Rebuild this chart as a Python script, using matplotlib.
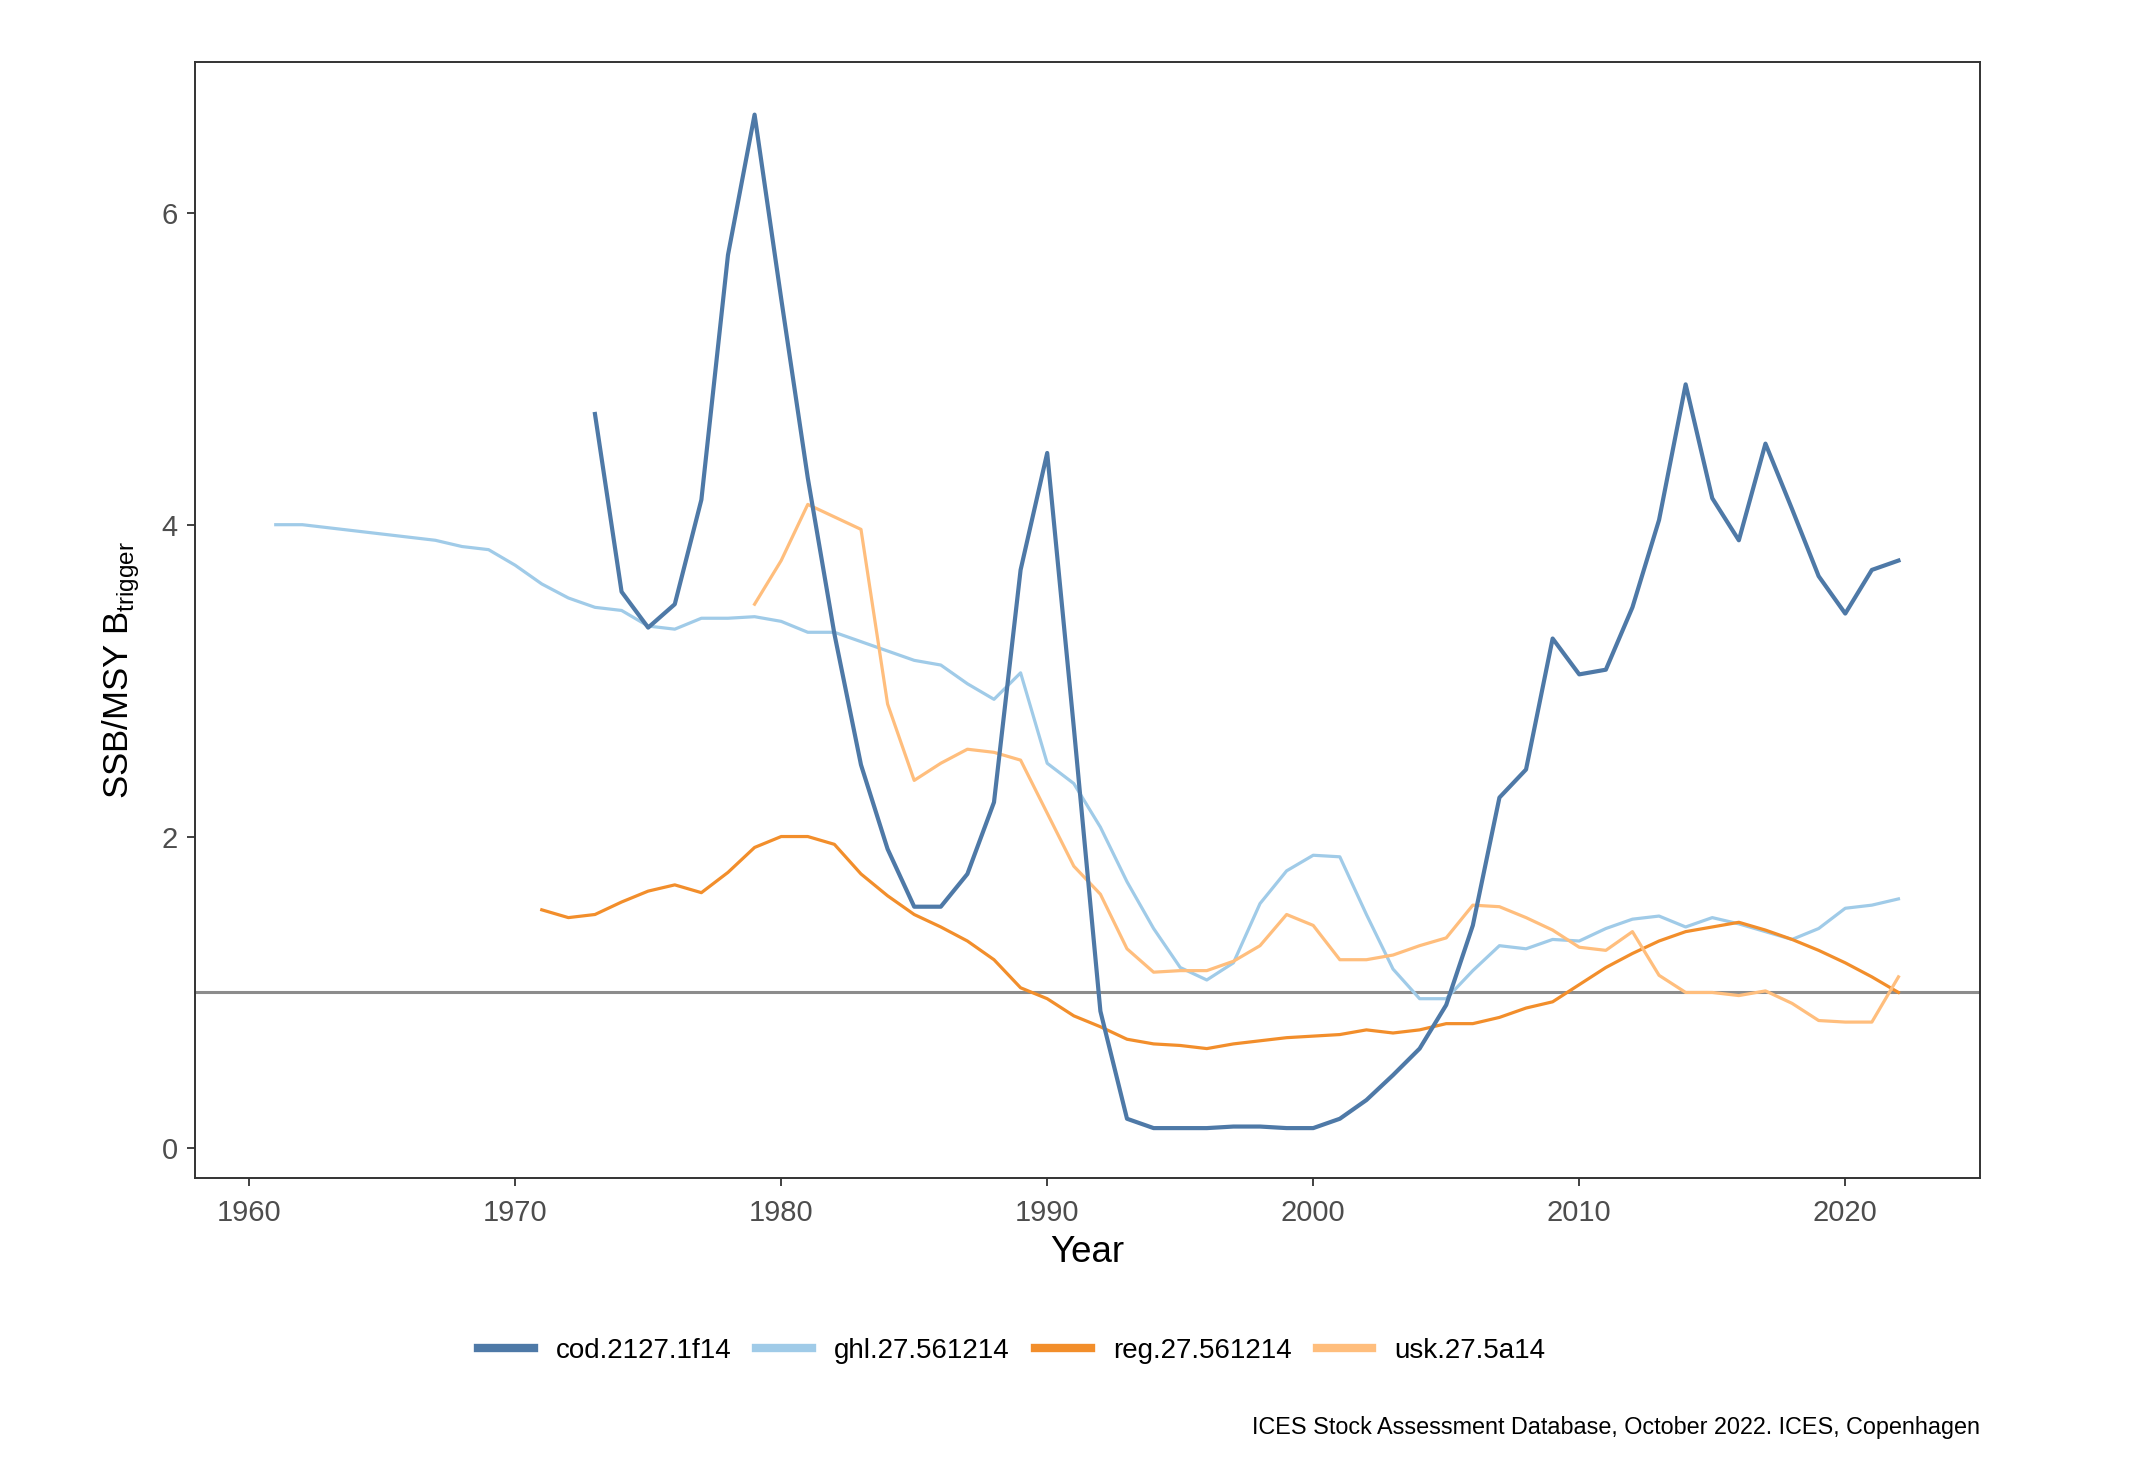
import matplotlib
matplotlib.use("Agg")
import matplotlib.pyplot as plt

plt.rcParams['font.family'] = ['Liberation Sans', 'DejaVu Sans']
plt.rcParams['mathtext.fontset'] = 'custom'
plt.rcParams['mathtext.rm'] = 'Liberation Sans'

# cod.2127.1f14, 1973-2022
cod_years = list(range(1973, 2023))
cod_vals = [4.71, 3.57, 3.34, 3.49, 4.16, 5.73, 6.63, 5.45, 4.30, 3.30,
            2.46, 1.92, 1.55, 1.55, 1.76, 2.22, 3.71, 4.46, 2.70, 0.88,
            0.19, 0.13, 0.13, 0.13, 0.14, 0.14, 0.13, 0.13, 0.19, 0.31,
            0.47, 0.64, 0.92, 1.43, 2.25, 2.43, 3.27, 3.04, 3.07, 3.47,
            4.03, 4.90, 4.17, 3.90, 4.52, 4.10, 3.67, 3.43, 3.71, 3.77]

# ghl.27.561214, 1961-2022
ghl_years = list(range(1961, 2023))
ghl_vals = [4.00, 4.00, 3.98, 3.96, 3.94, 3.92, 3.90, 3.86, 3.84, 3.74,
            3.62, 3.53, 3.47, 3.45, 3.35, 3.33, 3.40, 3.40, 3.41, 3.38,
            3.31, 3.31, 3.25, 3.19, 3.13, 3.10, 2.98, 2.88, 3.05, 2.47,
            2.34, 2.06, 1.71, 1.41, 1.16, 1.08, 1.19, 1.57, 1.78, 1.88,
            1.87, 1.50, 1.15, 0.96, 0.96, 1.14, 1.30, 1.28, 1.34, 1.33,
            1.41, 1.47, 1.49, 1.42, 1.48, 1.44, 1.39, 1.34, 1.41, 1.54,
            1.56, 1.60]

# reg.27.561214, 1971-2022
reg_years = list(range(1971, 2023))
reg_vals = [1.53, 1.48, 1.50, 1.58, 1.65, 1.69, 1.64, 1.77, 1.93, 2.00,
            2.00, 1.95, 1.76, 1.62, 1.50, 1.42, 1.33, 1.21, 1.03, 0.96,
            0.85, 0.78, 0.70, 0.67, 0.66, 0.64, 0.67, 0.69, 0.71, 0.72,
            0.73, 0.76, 0.74, 0.76, 0.80, 0.80, 0.84, 0.90, 0.94, 1.05,
            1.16, 1.25, 1.33, 1.39, 1.42, 1.45, 1.40, 1.34, 1.27, 1.19,
            1.10, 1.00]

# usk.27.5a14, 1979-2022
usk_years = list(range(1979, 2023))
usk_vals = [3.49, 3.77, 4.13, 4.05, 3.97, 2.85, 2.36, 2.47, 2.56, 2.54,
            2.49, 2.15, 1.81, 1.63, 1.28, 1.13, 1.14, 1.14, 1.20, 1.30,
            1.50, 1.43, 1.21, 1.21, 1.24, 1.30, 1.35, 1.56, 1.55, 1.48,
            1.40, 1.29, 1.27, 1.39, 1.11, 1.00, 1.00, 0.98, 1.01, 0.93,
            0.82, 0.81, 0.81, 1.10]

fig = plt.figure(figsize=(21.48, 14.67), dpi=100)
ax = fig.add_axes([0.0906, 0.197, 0.831, 0.761])

ax.axhline(1, color='#8c8c8c', lw=2.2, zorder=1)
ax.plot(cod_years, cod_vals, color='#4E79A7', lw=3.0, label='cod.2127.1f14', zorder=3)
ax.plot(ghl_years, ghl_vals, color='#A0CBE8', lw=2.3, label='ghl.27.561214', zorder=2)
ax.plot(reg_years, reg_vals, color='#F28E2B', lw=2.3, label='reg.27.561214', zorder=2)
ax.plot(usk_years, usk_vals, color='#FFBE7D', lw=2.3, label='usk.27.5a14', zorder=2)

ax.set_xlim(1957.95, 2025.05)
ax.set_ylim(-0.19, 6.97)
ax.set_xticks([1960, 1970, 1980, 1990, 2000, 2010, 2020])
ax.set_yticks([0, 2, 4, 6])
for s in ax.spines.values():
    s.set_color('#333333')
    s.set_linewidth(1.4)
ax.tick_params(colors='#333333', labelcolor='#4d4d4d', labelsize=21, length=6, width=1.3)
ax.tick_params(axis='x', pad=9)
ax.tick_params(axis='y', pad=6)

ax.set_xlabel('Year', fontsize=26.5, labelpad=6)
ax.set_ylabel(r'SSB/MSY B$_{\mathrm{trigger}}$', fontsize=25, labelpad=14)
ax.yaxis.label.set_y(0.455)

leg = fig.legend(loc='center', bbox_to_anchor=(0.471, 0.0794), ncol=4, frameon=False,
                 fontsize=20, handlelength=2.0, handletextpad=0.8, columnspacing=0.9)
for h in leg.get_lines():
    h.set_linewidth(6)

fig.text(0.9216, 0.027, 'ICES Stock Assessment Database, October 2022. ICES, Copenhagen',
         ha='right', va='center', fontsize=16.8)

fig.savefig('out.png', dpi=100)
